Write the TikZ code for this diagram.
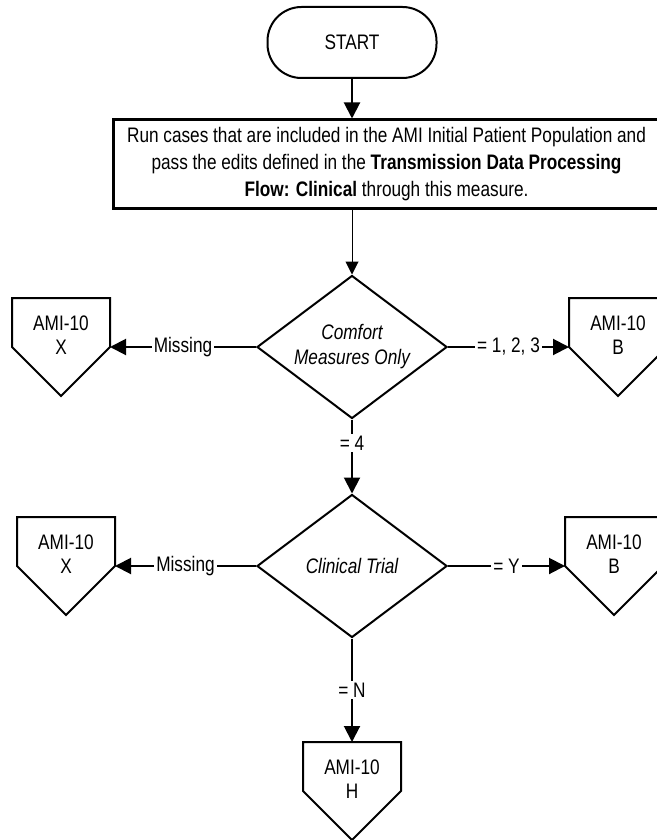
\documentclass[tikz,border=0pt]{standalone}
\usepackage{fontspec}
\setmainfont{Liberation Sans}[FakeStretch=0.82]
\usetikzlibrary{shapes.geometric,arrows.meta}

% off-page connector: square body with a point below
\makeatletter
\pgfdeclareshape{offpage}{
  \inheritsavedanchors[from=rectangle]
  \inheritanchor[from=rectangle]{center}
  \inheritanchor[from=rectangle]{text}
  \inheritanchor[from=rectangle]{north}
  \anchor{west}{
    \southwest \pgf@xa=\pgf@x
    \northeast \pgf@xb=\pgf@x \pgf@ya=\pgf@y
    \pgf@y=\pgf@ya \advance\pgf@y by -.5\pgf@xb \advance\pgf@y by .5\pgf@xa
    \pgf@x=\pgf@xa
  }
  \anchor{east}{
    \southwest \pgf@xa=\pgf@x
    \northeast \pgf@xb=\pgf@x \pgf@ya=\pgf@y
    \pgf@y=\pgf@ya \advance\pgf@y by -.5\pgf@xb \advance\pgf@y by .5\pgf@xa
    \pgf@x=\pgf@xb
  }
  \anchor{south}{
    \southwest \pgf@xa=\pgf@x
    \northeast \pgf@xb=\pgf@x \pgf@ya=\pgf@y
    \pgf@y=\pgf@ya \advance\pgf@y by -\pgf@xb \advance\pgf@y by \pgf@xa
    \pgf@x=.5\pgf@xa \advance\pgf@x by .5\pgf@xb
  }
  \backgroundpath{
    \southwest \pgf@xa=\pgf@x
    \northeast \pgf@xb=\pgf@x \pgf@yb=\pgf@y
    \pgf@xc=\pgf@xb \advance\pgf@xc by -\pgf@xa
    \pgf@yc=\pgf@yb \advance\pgf@yc by -.5\pgf@xc
    \pgf@ya=\pgf@yb \advance\pgf@ya by -\pgf@xc
    \pgf@xc=.5\pgf@xa \advance\pgf@xc by .5\pgf@xb
    \edef\op@l{\the\pgf@xa}\edef\op@r{\the\pgf@xb}\edef\op@m{\the\pgf@xc}
    \edef\op@t{\the\pgf@yb}\edef\op@c{\the\pgf@yc}\edef\op@b{\the\pgf@ya}
    \pgfpathmoveto{\pgfqpoint{\op@l}{\op@t}}
    \pgfpathlineto{\pgfqpoint{\op@l}{\op@c}}
    \pgfpathlineto{\pgfqpoint{\op@m}{\op@b}}
    \pgfpathlineto{\pgfqpoint{\op@r}{\op@c}}
    \pgfpathlineto{\pgfqpoint{\op@r}{\op@t}}
    \pgfpathclose
  }
}
\makeatother

\begin{document}
\begin{tikzpicture}[
    x=0.5pt,
    y=-0.5pt,
    font=\fontsize{10.5}{13.5}\selectfont,
    terminal/.style={
        rectangle,
        draw,
        line width=1pt,
        minimum width=84.5pt,
        minimum height=35.5pt,
        rounded corners=17pt
    },
    process/.style={
        rectangle,
        draw,
        line width=1.5pt,
        minimum width=273.5pt,
        minimum height=44pt,
        align=center
    },
    decision/.style={
        diamond,
        draw,
        line width=1pt,
        aspect=1.33,
        minimum width=95pt,
        minimum height=71.5pt,
        inner sep=0pt,
        align=center,
        font=\fontsize{10.5}{12.5}\selectfont\itshape
    },
    offpage/.style={
        shape=offpage,
        draw,
        line width=1pt,
        minimum width=49pt,
        minimum height=37pt,
        inner sep=0pt,
        outer sep=0pt,
        align=center,
        font=\fontsize{10.5}{12}\selectfont
    },
    lbl/.style={
        fill=white,
        inner sep=1pt
    },
    arrow/.style={
        ->,
        line width=1pt,
        >={Triangle[length=8pt,width=8pt]}
    }
]
\useasboundingbox (0,0) rectangle (657,840);

% Start
\node[terminal] (start) at (352,42.5) {START};

% Run cases
\node[process] (run) at (386.5,164) {
    Run cases that are included in the AMI Initial Patient Population and\\
    pass the edits defined in the \textbf{Transmission Data Processing}\\
    \textbf{Flow: Clinical} through this measure.
};

% Decisions
\node[decision] (cmo) at (352,347) {Comfort\\Measures Only};
\node[decision] (trial) at (352,566) {Clinical Trial};

% Off-page connectors
\node[offpage] (cmox) at (61,335) {AMI-10\\X};
\node[offpage] (cmob) at (618,335) {AMI-10\\B};
\node[offpage] (trialx) at (66,554) {AMI-10\\X};
\node[offpage] (trialb) at (614,554) {AMI-10\\B};
\node[offpage] (trialh) at (352,779) {AMI-10\\H};

% Arrows
\draw[arrow] (start.south) -- (start.south |- run.north);
\draw[arrow, line width=0.5pt, >={Triangle[length=6.5pt,width=6.5pt]}]
    (cmo.north |- run.south) -- (cmo.north);
\draw[arrow] (cmo.west) -- node[lbl] {Missing} (cmox.east);
\draw[arrow] (cmo.east) -- node[lbl] {= 1, 2, 3} (cmob.west);
\draw[arrow] (cmo.south) -- node[lbl, pos=0.32] {= 4} (trial.north);
\draw[arrow] (trial.west) -- node[lbl] {Missing} (trialx.east);
\draw[arrow] (trial.east) -- node[lbl] {= Y} (trialb.west);
\draw[arrow] (trial.south) -- node[lbl] {= N} (trialh.north);

\end{tikzpicture}
\end{document}
